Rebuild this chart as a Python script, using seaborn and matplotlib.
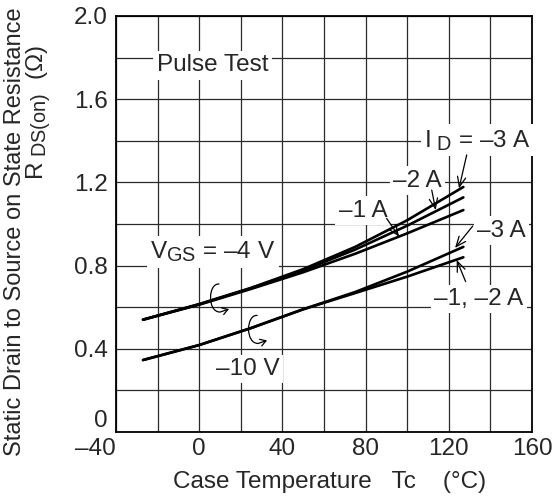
import matplotlib
matplotlib.use("Agg")
import matplotlib.pyplot as plt
import numpy as np
import pandas as pd
import seaborn as sns
from matplotlib.path import Path
from matplotlib.patches import FancyArrowPatch
from matplotlib.transforms import Affine2D, ScaledTranslation

try:
    import matplotlib._mathtext as _mt
    _mt.SHRINK_FACTOR = 0.82
except Exception:
    pass

# ---------------- data ----------------
temps = [-27, 0, 25, 50, 75, 100, 127]
r_vgs4_id3 = [0.540, 0.615, 0.693, 0.783, 0.890, 1.018, 1.178]
r_vgs4_id2 = [0.540, 0.614, 0.692, 0.777, 0.877, 0.992, 1.128]
r_vgs4_id1 = [0.540, 0.612, 0.688, 0.768, 0.857, 0.955, 1.067]
r_vgs10_id3 = [0.346, 0.418, 0.500, 0.590, 0.673, 0.771, 0.890]
r_vgs10_id12 = [0.346, 0.418, 0.500, 0.590, 0.668, 0.747, 0.840]

curve_names = ["-4V -3A", "-4V -2A", "-4V -1A", "-10V -3A", "-10V -1,-2A"]
curve_values = [r_vgs4_id3, r_vgs4_id2, r_vgs4_id1, r_vgs10_id3, r_vgs10_id12]

x_ticks = [-40, 0, 40, 80, 120, 160]
x_ticklabels = ["\u201340", "0", "40", "80", "120", "160"]
y_ticks = [0, 0.4, 0.8, 1.2, 1.6, 2.0]
y_ticklabels = ["0", "0.4", "0.8", "1.2", "1.6", "2.0"]

rows = []
for name, vals in zip(curve_names, curve_values):
    for t, v in zip(temps, vals):
        rows.append({"curve": name, "Tc": t, "R": v})
df = pd.DataFrame(rows)

# ---------------- style ----------------
sns.set_theme(style="white")
plt.rcParams["font.family"] = ["Liberation Sans", "DejaVu Sans"]
plt.rcParams["mathtext.fontset"] = "custom"
plt.rcParams["mathtext.rm"] = "Liberation Sans"
plt.rcParams["mathtext.it"] = "Liberation Sans:italic"
plt.rcParams["mathtext.bf"] = "Liberation Sans:bold"

FS = 17.5
W, H = 554, 497
fig = plt.figure(figsize=(W / 100, H / 100), dpi=100)
fig.patch.set_facecolor("white")
ax = fig.add_axes([116 / W, 1 - 432 / H, 416 / W, 416 / H])
ax.set_facecolor("white")

sns.lineplot(data=df, x="Tc", y="R", units="curve", estimator=None,
             color="black", lw=1.9, ax=ax, legend=False, sort=False, zorder=5)

ax.set_xlim(-40, 160)
ax.set_ylim(0, 2.0)
ax.set_xticks(x_ticks)
ax.set_xticklabels(x_ticklabels, fontsize=FS)
ax.set_yticks(y_ticks)
ax.set_yticklabels(y_ticklabels, fontsize=FS)
ax.set_xticks(np.arange(-40, 161, 20), minor=True)
ax.set_yticks(np.arange(0, 2.01, 0.2), minor=True)
ax.tick_params(which="both", length=0)
ax.tick_params(axis="y", pad=6)
ax.tick_params(axis="x", pad=4)
ax.grid(True, which="both", color="#2a2a2a", lw=0.9)
ax.set_axisbelow(True)
for s in ax.spines.values():
    s.set_visible(True)
    s.set_color("black")
    s.set_linewidth(1.3)
ax.set_xlabel("")
ax.set_ylabel("")

# first tick labels nudged like the reference
ax.get_xticklabels()[0].set_ha("right")
ax.get_yticklabels()[0].set_va("bottom")

# axis titles
fig.text(0.5 * (170 + 490) / W, 1 - 482 / H,
         "Case Temperature   Tc    (\u00b0C)", ha="center", va="center", fontsize=FS)
fig.text(15 / W, 1 - 456 / H, "Static Drain to Source on State Resistance",
         rotation=90, ha="center", va="bottom", fontsize=17)
fig.text(39 / W, 1 - 180 / H, r"R$_{\mathrm{\ DS(on)}}$  " + "(\u03a9)",
         rotation=90, ha="center", va="bottom", fontsize=FS)

box = dict(facecolor="white", edgecolor="none", pad=2.5)

def label(x, y, s):
    ax.text(x, y, s, ha="left", va="baseline", fontsize=FS, bbox=box, zorder=3)

label(-20.4, 1.734, "Pulse Test")
label(108.2, 1.372, r"I$_{\mathrm{\ D}}$" + " = \u20133 A")
label(93.3, 1.179, "\u20132 A")
label(67.0, 1.036, "\u20131 A")
label(133.6, 0.939, "\u20133 A")
label(113.0, 0.611, "\u20131, \u20132 A")
label(-23.7, 0.835, r"V$_{\mathrm{GS}}$" + " = \u20134 V")
label(8.1, 0.274, "\u201310 V")

arrow_kw = dict(arrowstyle="->,head_length=0.6,head_width=0.25", color="black", lw=0.9,
                shrinkA=0, shrinkB=0)

def pointer(tail, head):
    ax.annotate("", xy=head, xytext=tail, arrowprops=arrow_kw, zorder=6)

pointer((128.6, 1.332), (124.9, 1.171))
pointer((111.8, 1.163), (113.7, 1.067))
pointer((90.1, 1.027), (96.1, 0.939))
pointer((131.5, 0.990), (123.0, 0.885))
pointer((128.1, 0.723), (123.8, 0.827))

# curled arrows indicating the V_GS family
def curl(x, y):
    verts = [(-1, 14), (-12, 15), (-13, -14), (0, -14), (9, -11)]
    codes = [Path.MOVETO, Path.CURVE4, Path.CURVE4, Path.CURVE4, Path.LINETO]
    p = Path(verts, codes)
    tr = Affine2D() + ScaledTranslation(x, y, ax.transData)
    patch = FancyArrowPatch(path=p, arrowstyle="->,head_length=4,head_width=2.5",
                            mutation_scale=1, color="black", lw=0.9, transform=tr, zorder=6)
    ax.add_patch(patch)

curl(10.0, 0.644)
curl(28.3, 0.493)

fig.savefig("out.png", dpi=100, facecolor="white")
